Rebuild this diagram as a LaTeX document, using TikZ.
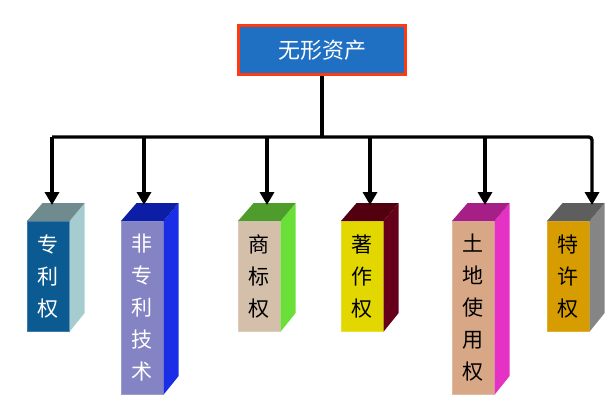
\documentclass[tikz,border=0pt]{standalone}
\usepackage{fontspec}
\newfontfamily\cjk{Noto Sans CJK SC}
\usetikzlibrary{arrows.meta}
\definecolor{rootfill}{HTML}{1F6FC2}
\definecolor{rootborder}{HTML}{FF3A10}
\definecolor{cAf}{HTML}{0C5A92}\definecolor{cAs}{HTML}{A6CCD0}\definecolor{cAt}{HTML}{6F8B8D}
\definecolor{cBf}{HTML}{8484C4}\definecolor{cBs}{HTML}{1A2EE6}\definecolor{cBt}{HTML}{0C1EA6}
\definecolor{cCf}{HTML}{D3BFAA}\definecolor{cCs}{HTML}{6ADF38}\definecolor{cCt}{HTML}{4E9C2C}
\definecolor{cDf}{HTML}{E2D800}\definecolor{cDs}{HTML}{66001A}\definecolor{cDt}{HTML}{52000F}
\definecolor{cEf}{HTML}{D8A886}\definecolor{cEs}{HTML}{E532C4}\definecolor{cEt}{HTML}{A51F86}
\definecolor{cFf}{HTML}{D69C00}\definecolor{cFs}{HTML}{858585}\definecolor{cFt}{HTML}{5E5E5E}
\tikzset{
  frontface/.style={minimum width=42pt, inner sep=0pt, anchor=north west,
    font=\cjk\fontsize{21}{32}\selectfont, align=center},
  busline/.style={line width=3.6pt, black},
  droparrow/.style={line width=3.4pt, black, -{Triangle[width=14pt,length=13pt]}},
}
\newcommand\pillar[6]{% name, x, height, colour prefix, text colour, text
  \node[frontface, fill=#4f, draw=#4f!80!white, line width=0.6pt, text=#5, minimum height=#3pt] (#1) at (#2,221) {#6};
  \fill[#4s] (#1.south east) -- (#1.north east) -- ++(15,-18) -- ++(0,#3) -- cycle;
  \fill[#4t] (#1.north west) -- (#1.north east) -- ++(15,-18) -- ++(-42,0) -- cycle;
}
\begin{document}
\begin{tikzpicture}[x=1pt,y=-1pt]
\useasboundingbox (0,0) rectangle (615,400);
\node[fill=rootfill, draw=rootborder, line width=3pt, minimum width=167pt, minimum height=49pt,
  inner sep=0pt, text=white, font=\cjk\fontsize{22}{26}\selectfont] (root) at (322,50) {无形资产};

\pillar{p1}{27}{110}{cA}{white}{专\\利\\权}
\pillar{p2}{121}{173}{cB}{white}{非\\专\\利\\技\\术}
\pillar{p3}{238}{110}{cC}{black}{商\\标\\权}
\pillar{p4}{341}{110}{cD}{black}{著\\作\\权}
\pillar{p5}{452}{173}{cE}{black}{土\\地\\使\\用\\权}
\pillar{p6}{547}{110}{cF}{black}{特\\许\\权}

\coordinate (b1) at (52,137);
\coordinate (b2) at (144,137);
\coordinate (b3) at (267,137);
\coordinate (b4) at (370,137);
\coordinate (b5) at (485,137);
\coordinate (b6) at (592,137);
\coordinate (a1) at (52,205);
\coordinate (a2) at (144,205);
\coordinate (a3) at (267,205);
\coordinate (a4) at (370,205);
\coordinate (a5) at (485,205);
\coordinate (a6) at (592,205);

\draw[busline] (root.south) -- (root.south |- b1);
\draw[droparrow, rounded corners=3pt] (b1) -- (b6) -- (a6);
\foreach \i in {1,...,5} \draw[droparrow] (b\i) -- (a\i);
\end{tikzpicture}
\end{document}
